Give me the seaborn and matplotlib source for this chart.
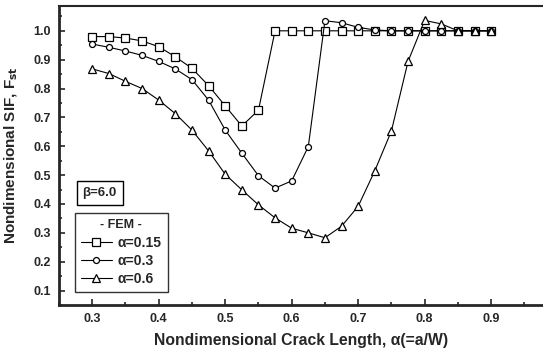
import numpy as np
import pandas as pd
import matplotlib
matplotlib.use("Agg")
import matplotlib.pyplot as plt
import seaborn as sns

alpha = [0.3, 0.325, 0.35, 0.375, 0.4, 0.425, 0.45, 0.475, 0.5, 0.525, 0.55, 0.575,
         0.6, 0.625, 0.65, 0.675, 0.7, 0.725, 0.75, 0.775, 0.8, 0.825, 0.85, 0.875, 0.9]
f_015 = [0.98, 0.98, 0.975, 0.965, 0.945, 0.91, 0.87, 0.81, 0.74, 0.67, 0.725, 1.0,
         1.0, 1.0, 1.0, 1.0, 1.0, 1.0, 1.0, 1.0, 1.0, 1.0, 1.0, 1.0, 1.0]
f_03 = [0.954, 0.943, 0.93, 0.915, 0.894, 0.868, 0.831, 0.76, 0.656, 0.576, 0.498, 0.455,
        0.48, 0.599, 1.035, 1.028, 1.012, 1.003, 1.0, 1.0, 1.0, 1.0, 1.0, 1.0, 1.0]
f_06 = [0.868, 0.852, 0.825, 0.8, 0.76, 0.713, 0.656, 0.584, 0.503, 0.449, 0.397, 0.352,
        0.316, 0.3, 0.283, 0.323, 0.392, 0.515, 0.653, 0.894, 1.036, 1.024, 1.0, 1.0, 1.0]
labels = ["\u03b1=0.15", "\u03b1=0.3", "\u03b1=0.6"]
xticks = [0.3, 0.4, 0.5, 0.6, 0.7, 0.8, 0.9]
yticks = [0.1, 0.2, 0.3, 0.4, 0.5, 0.6, 0.7, 0.8, 0.9, 1.0]

sns.set_style("ticks")
plt.rcParams['font.family'] = ['Liberation Sans', 'DejaVu Sans']
plt.rcParams['font.weight'] = 'bold'

fig = plt.figure(figsize=(5.43, 3.59), dpi=100)
ax = fig.add_axes([59/543, 1 - 305/359, 1 - 59/543, (305 - 6)/359])

series = [(f_015, 's', 5.3), (f_03, 'o', 4.3), (f_06, '^', 5.8)]
for (vals, mk, ms), lab in zip(series, labels):
    df = pd.DataFrame({"a": alpha, "F": vals})
    sns.lineplot(data=df, x="a", y="F", ax=ax, color="black", linewidth=0.8,
                 marker=mk, markersize=ms, markerfacecolor="white",
                 markeredgecolor="black", markeredgewidth=0.9, label=lab)

ax.set_xlim(0.252, 0.978)
ax.set_ylim(0.055, 1.086)
ax.set_xticks(xticks)
ax.set_yticks(yticks)
ax.set_xticks(np.arange(0.25, 0.96, 0.05), minor=True)
ax.set_yticks(np.arange(0.05, 1.06, 0.05), minor=True)
ax.set_xticklabels([f"{v:.1f}" for v in xticks], fontsize=9, fontweight='bold')
ax.set_yticklabels([f"{v:.1f}" for v in yticks], fontsize=9, fontweight='bold')
ax.tick_params(which='both', direction='in', width=1.2)
ax.tick_params(which='major', length=4)
ax.tick_params(which='minor', length=2)
ax.tick_params(axis='x', pad=5.5)
ax.tick_params(axis='y', pad=6)

for s in ['left', 'bottom']:
    ax.spines[s].set_linewidth(2.0)
ax.spines['top'].set_linewidth(1.5)
ax.spines['right'].set_visible(False)

ax.set_xlabel("Nondimensional Crack Length, \u03b1(=a/W)", fontsize=11.3, fontweight='bold')
ax.set_ylabel("Nondimensional SIF, F$_{\\mathbf{st}}$", fontsize=11, fontweight='bold')
ax.xaxis.set_label_coords(0.5, -0.095)
ax.yaxis.set_label_coords(-0.081, 0.5)

leg = ax.legend(title="- FEM -", loc='lower left', bbox_to_anchor=(0.033, 0.043),
                frameon=True, fancybox=False, edgecolor='black', fontsize=10,
                title_fontsize=9, handlelength=2.2, handletextpad=0.4,
                labelspacing=0.3, borderpad=0.45, borderaxespad=0)
leg.get_frame().set_linewidth(1.0)
leg.get_title().set_fontweight('bold')

ax.text(0.084, 0.375, "\u03b2=6.0", transform=ax.transAxes, fontsize=9.5, fontweight='bold',
        va='center', ha='center',
        bbox=dict(boxstyle='square,pad=0.45', facecolor='white', edgecolor='black', linewidth=1.0))

fig.savefig("out.png", dpi=100)
